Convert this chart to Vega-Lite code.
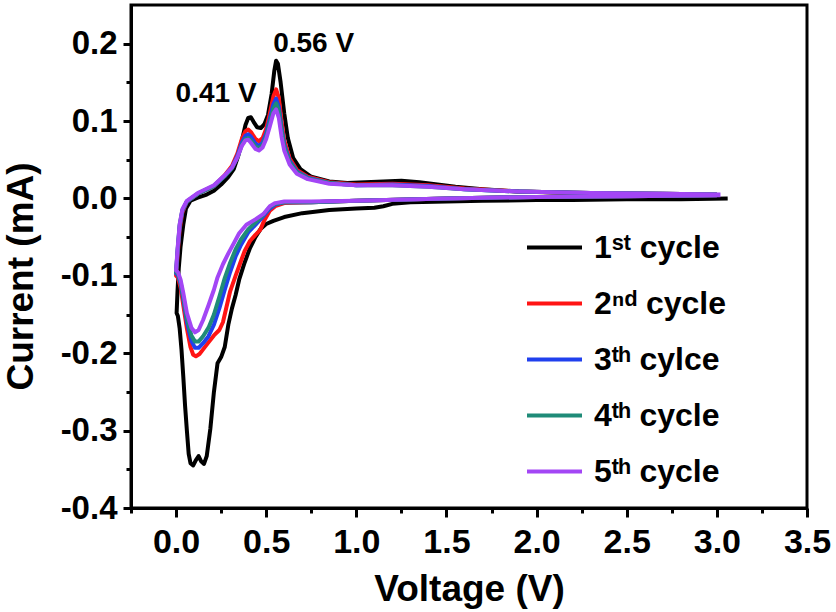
{
  "$schema": "https://vega.github.io/schema/vega-lite/v6.json",
  "width": 676,
  "height": 503,
  "autosize": {"type": "none"},
  "padding": {"left": 131, "top": 5, "right": 29, "bottom": 104},
  "background": "white",
  "config": {
    "view": {"stroke": "#000", "strokeWidth": 3},
    "font": "Liberation Sans"
  },
  "layer": [
    {
      "data": {
        "values": [
          {"c": "1ˢᵗ cycle",
           "v": [3.06,2.8,2.5,2.2,2.0,1.7,1.5,1.3,1.2,1.15,1.1,1.0,0.85,0.7,0.6,0.54,0.5,0.47,0.44,0.41,0.38,0.35,0.33,0.31,0.29,0.27,0.25,0.23,0.21,0.19,0.17,0.155,0.14,0.125,0.11,0.095,0.08,0.07,0.06,0.05,0.04,0.03,0.02,0.01,0.003,0.008,0.015,0.025,0.04,0.055,0.08,0.12,0.17,0.21,0.25,0.29,0.32,0.345,0.365,0.385,0.4,0.415,0.43,0.45,0.47,0.49,0.51,0.53,0.545,0.555,0.565,0.58,0.6,0.62,0.65,0.69,0.75,0.85,0.95,1.05,1.15,1.25,1.35,1.45,1.55,1.7,1.9,2.2,2.6,3.0],
           "i": [0,-0.001,-0.001,-0.002,-0.002,-0.003,-0.004,-0.005,-0.007,-0.01,-0.012,-0.013,-0.015,-0.019,-0.024,-0.029,-0.033,-0.039,-0.05,-0.064,-0.083,-0.105,-0.125,-0.142,-0.163,-0.192,-0.205,-0.213,-0.25,-0.298,-0.333,-0.343,-0.34,-0.333,-0.338,-0.345,-0.342,-0.33,-0.3,-0.268,-0.23,-0.195,-0.168,-0.152,-0.148,-0.12,-0.09,-0.062,-0.034,-0.013,-0.003,0.001,0.005,0.01,0.018,0.028,0.038,0.055,0.075,0.095,0.104,0.105,0.099,0.092,0.091,0.096,0.108,0.135,0.165,0.178,0.174,0.15,0.11,0.078,0.052,0.038,0.028,0.022,0.02,0.021,0.022,0.023,0.021,0.018,0.015,0.012,0.009,0.007,0.005,0.004]},
          {"c": "2ⁿᵈ cycle",
           "v": [3.0,2.5,2.0,1.5,1.0,0.75,0.6,0.55,0.52,0.49,0.466,0.44,0.41,0.38,0.355,0.33,0.3,0.28,0.26,0.24,0.21,0.18,0.15,0.13,0.11,0.095,0.08,0.06,0.04,0.025,0.01,0.0,0.008,0.02,0.035,0.06,0.12,0.21,0.27,0.31,0.34,0.365,0.385,0.4,0.415,0.44,0.46,0.48,0.5,0.52,0.54,0.555,0.57,0.585,0.6,0.63,0.67,0.73,0.85,1.0,1.2,1.4,1.6,1.9,2.3,2.7,3.0],
           "i": [0.004,0.003,0.002,0,-0.003,-0.005,-0.006,-0.01,-0.016,-0.028,-0.041,-0.047,-0.055,-0.068,-0.084,-0.1,-0.12,-0.14,-0.16,-0.17,-0.177,-0.186,-0.195,-0.201,-0.204,-0.202,-0.192,-0.168,-0.138,-0.115,-0.102,-0.1,-0.075,-0.04,-0.018,-0.004,0.006,0.016,0.03,0.042,0.058,0.077,0.087,0.089,0.086,0.077,0.074,0.078,0.09,0.11,0.132,0.141,0.13,0.1,0.075,0.052,0.037,0.028,0.021,0.018,0.019,0.017,0.013,0.009,0.007,0.006,0.005]},
          {"c": "3ᵗʰ cylce",
           "v": [3.0,2.5,2.0,1.5,1.0,0.75,0.6,0.55,0.52,0.48,0.44,0.4,0.36,0.33,0.3,0.27,0.24,0.21,0.18,0.15,0.125,0.105,0.085,0.06,0.04,0.025,0.01,0.0,0.008,0.02,0.035,0.06,0.12,0.21,0.27,0.31,0.34,0.365,0.385,0.4,0.415,0.44,0.46,0.48,0.5,0.52,0.54,0.555,0.57,0.585,0.6,0.63,0.67,0.73,0.85,1.0,1.2,1.4,1.6,1.9,2.3,2.7,3.0],
           "i": [0.004,0.003,0.002,0,-0.003,-0.005,-0.005,-0.008,-0.013,-0.024,-0.034,-0.044,-0.06,-0.075,-0.095,-0.118,-0.142,-0.163,-0.178,-0.187,-0.193,-0.193,-0.184,-0.16,-0.13,-0.11,-0.099,-0.097,-0.07,-0.036,-0.016,-0.004,0.006,0.016,0.029,0.04,0.055,0.072,0.081,0.083,0.08,0.071,0.068,0.072,0.084,0.103,0.122,0.129,0.118,0.092,0.07,0.049,0.035,0.027,0.02,0.017,0.018,0.016,0.012,0.009,0.007,0.006,0.005]},
          {"c": "4ᵗʰ cycle",
           "v": [3.0,2.5,2.0,1.5,1.0,0.75,0.6,0.55,0.52,0.48,0.44,0.4,0.36,0.33,0.3,0.27,0.24,0.21,0.18,0.15,0.125,0.105,0.085,0.06,0.04,0.025,0.01,0.0,0.008,0.02,0.035,0.06,0.12,0.21,0.27,0.31,0.34,0.365,0.385,0.4,0.415,0.44,0.46,0.48,0.5,0.52,0.54,0.555,0.57,0.585,0.6,0.63,0.67,0.73,0.85,1.0,1.2,1.4,1.6,1.9,2.3,2.7,3.0],
           "i": [0.004,0.003,0.002,0,-0.003,-0.005,-0.005,-0.007,-0.011,-0.022,-0.031,-0.04,-0.053,-0.066,-0.083,-0.103,-0.127,-0.15,-0.167,-0.178,-0.185,-0.185,-0.177,-0.155,-0.127,-0.108,-0.097,-0.095,-0.068,-0.034,-0.015,-0.004,0.006,0.016,0.029,0.039,0.053,0.069,0.077,0.078,0.075,0.067,0.065,0.069,0.08,0.098,0.116,0.123,0.113,0.088,0.067,0.047,0.034,0.026,0.02,0.017,0.017,0.015,0.012,0.009,0.007,0.006,0.005]},
          {"c": "5ᵗʰ cycle",
           "v": [3.02,2.5,2.0,1.5,1.0,0.75,0.6,0.55,0.52,0.485,0.44,0.39,0.35,0.32,0.29,0.26,0.23,0.21,0.18,0.15,0.125,0.105,0.085,0.06,0.04,0.025,0.01,0.0,0.008,0.02,0.035,0.06,0.12,0.21,0.27,0.31,0.34,0.365,0.385,0.4,0.415,0.44,0.46,0.48,0.5,0.52,0.54,0.555,0.57,0.585,0.6,0.63,0.67,0.73,0.85,1.0,1.2,1.4,1.6,1.9,2.3,2.7,3.02],
           "i": [0.004,0.003,0.002,0,-0.003,-0.004,-0.004,-0.006,-0.01,-0.02,-0.027,-0.034,-0.045,-0.058,-0.071,-0.085,-0.102,-0.118,-0.138,-0.157,-0.17,-0.173,-0.167,-0.148,-0.122,-0.105,-0.095,-0.093,-0.066,-0.033,-0.014,-0.003,0.007,0.017,0.03,0.04,0.053,0.068,0.075,0.076,0.072,0.064,0.062,0.066,0.077,0.093,0.11,0.115,0.104,0.08,0.062,0.044,0.032,0.025,0.019,0.017,0.017,0.015,0.012,0.009,0.007,0.006,0.005]}
        ]
      },
      "transform": [{"flatten": ["v", "i"]}],
      "mark": {"type": "line", "strokeWidth": 4, "strokeJoin": "round", "clip": true},
      "encoding": {
        "x": {
          "field": "v",
          "type": "quantitative",
          "scale": {"domain": [-0.25, 3.5], "nice": false, "zero": false},
          "axis": {
            "values": [-0.25,0,0.25,0.5,0.75,1,1.25,1.5,1.75,2,2.25,2.5,2.75,3,3.25,3.5],
            "title": "Voltage (V)",
            "grid": false,
            "domainColor": "#000",
            "domainWidth": 3,
            "tickColor": "#000",
            "tickWidth": 3,
            "tickSize": {"condition": {"test": "abs(datum.value*2 - round(datum.value*2)) < 0.001", "value": 9}, "value": 5},
            "labelExpr": "datum.value >= 0 && abs(datum.value*2 - round(datum.value*2)) < 0.001 ? format(datum.value, '.1f') : ''",
            "labelFont": "Liberation Sans",
            "labelFontWeight": "bold",
            "labelFontSize": 34,
            "labelColor": "#000",
            "labelPadding": 8,
            "labelFlush": false,
            "labelOverlap": false,
            "titleFont": "Liberation Sans",
            "titleFontSize": 37,
            "titleFontWeight": "bold",
            "titleColor": "#000",
            "titleBaseline": "alphabetic",
            "titleY": 92
          }
        },
        "y": {
          "field": "i",
          "type": "quantitative",
          "scale": {"domain": [-0.4, 0.25], "nice": false, "zero": false},
          "axis": {
            "values": [-0.4,-0.35,-0.3,-0.25,-0.2,-0.15,-0.1,-0.05,0,0.05,0.1,0.15,0.2],
            "title": "Current (mA)",
            "grid": false,
            "domainColor": "#000",
            "domainWidth": 3,
            "tickColor": "#000",
            "tickWidth": 3,
            "tickSize": {"condition": {"test": "abs(datum.value*10 - round(datum.value*10)) < 0.001", "value": 8}, "value": 5},
            "labelExpr": "abs(datum.value*10 - round(datum.value*10)) < 0.001 ? (datum.value < -0.001 ? '-' : '') + format(abs(datum.value), '.1f') : ''",
            "labelFont": "Liberation Sans",
            "labelFontWeight": "bold",
            "labelFontSize": 33,
            "labelColor": "#000",
            "labelPadding": 6,
            "labelFlush": false,
            "labelOverlap": false,
            "titleFont": "Liberation Sans",
            "titleFontSize": 37,
            "titleFontWeight": "bold",
            "titleColor": "#000",
            "titleBaseline": "alphabetic",
            "titleAngle": 270,
            "titleX": -99,
            "titleY": 271
          }
        },
        "color": {
          "field": "c",
          "type": "nominal",
          "scale": {
            "domain": ["1ˢᵗ cycle", "2ⁿᵈ cycle", "3ᵗʰ cylce", "4ᵗʰ cycle", "5ᵗʰ cycle"],
            "range": ["#000000", "#ff1414", "#2040ee", "#1f8b78", "#a346f5"]
          },
          "legend": {
            "title": null,
            "orient": "none",
            "legendX": 394,
            "legendY": 213,
            "padding": 0,
            "symbolType": "stroke",
            "symbolSize": 3025,
            "symbolStrokeWidth": 4,
            "labelFont": "Liberation Sans",
            "labelFontSize": 32,
            "labelFontWeight": "bold",
            "labelColor": "#000",
            "labelOffset": 10,
            "labelLimit": 400,
            "rowPadding": 10
          }
        },
        "order": {"value": null}
      }
    },
    {
      "data": {
        "values": [
          {"v": 0.222, "i": 0.135, "t": "0.41 V"},
          {"v": 0.763, "i": 0.1995, "t": "0.56 V"}
        ]
      },
      "mark": {"type": "text", "font": "Liberation Sans", "fontSize": 28, "fontWeight": "bold", "color": "#000", "baseline": "middle"},
      "encoding": {
        "x": {"field": "v", "type": "quantitative"},
        "y": {"field": "i", "type": "quantitative"},
        "text": {"field": "t"}
      }
    }
  ]
}
